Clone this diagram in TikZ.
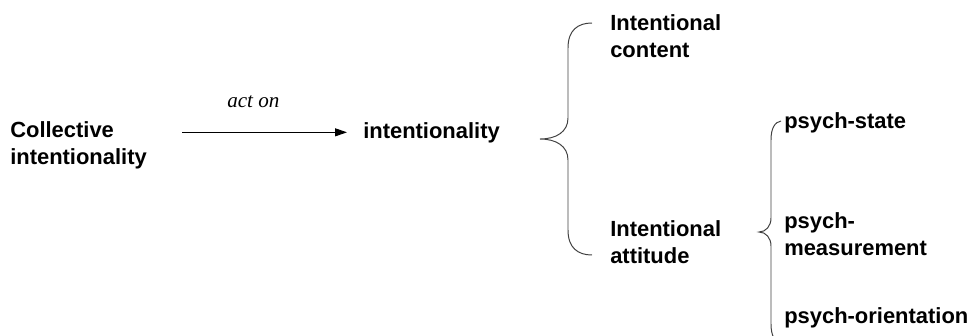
\documentclass[tikz,border=0pt]{standalone}
\usepackage{fontspec}
\setmainfont{Liberation Sans}
\newfontfamily\serifit{Liberation Serif}
\usetikzlibrary{arrows.meta}
\tikzset{
	lbl/.style={anchor=base west, inner sep=0pt, align=left, font=\bfseries\fontsize{15.6}{18.8}\selectfont},
	brc/.style={line width=0.7pt, color=black!75},
	arr/.style={line width=0.7pt, -{Triangle[length=8.5pt,width=5.7pt]}}
}
\begin{document}
\begin{tikzpicture}[x=0.025cm, y=-0.025cm]
			%%%%% START %%%%%
			\useasboundingbox (0,0) rectangle (976,336);
			
			\node[lbl] (ci) at (10,164) {Collective\\intentionality};
			\node[lbl] (int) at (363,138) {intentionality};
			\node[anchor=base west, inner sep=0pt, font=\serifit\itshape\fontsize{15}{18}\selectfont] (acton) at (227,107) {act on};
			\draw[arr, shorten <=0.875cm, shorten >=0.4cm] (ci.east |- int.west) -- (int.west);
			
			% first brace
			\draw[brc] (592,23) .. controls (578,23) and (568,30) .. (568,48) -- (568,118) .. controls (568,132) and (556,139) .. (540,139) .. controls (556,139) and (568,146) .. (568,160) -- (568,230) .. controls (568,248) and (578,255) .. (592,255);
			
			\node[lbl] (icont) at (610,57) {Intentional\\content};
			\node[lbl] (iatt) at (610,263) {Intentional\\attitude};
			
			% second brace
			\draw[brc] (781,121) .. controls (775,122) and (771,128) .. (771,140) -- (771,218) .. controls (771,226) and (766,232) .. (759,232) .. controls (766,232) and (771,238) .. (771,246) -- (771,324) .. controls (771,336) and (775,342) .. (781,344);
			
			\node[lbl] (pstate) at (784,128) {psych-state};
			\node[lbl] (pmeas) at (784,255) {psych-\\measurement};
			\node[lbl] (porient) at (784,323) {psych-orientation};
			
			%%%%% END %%%%%
\end{tikzpicture}
\end{document}
